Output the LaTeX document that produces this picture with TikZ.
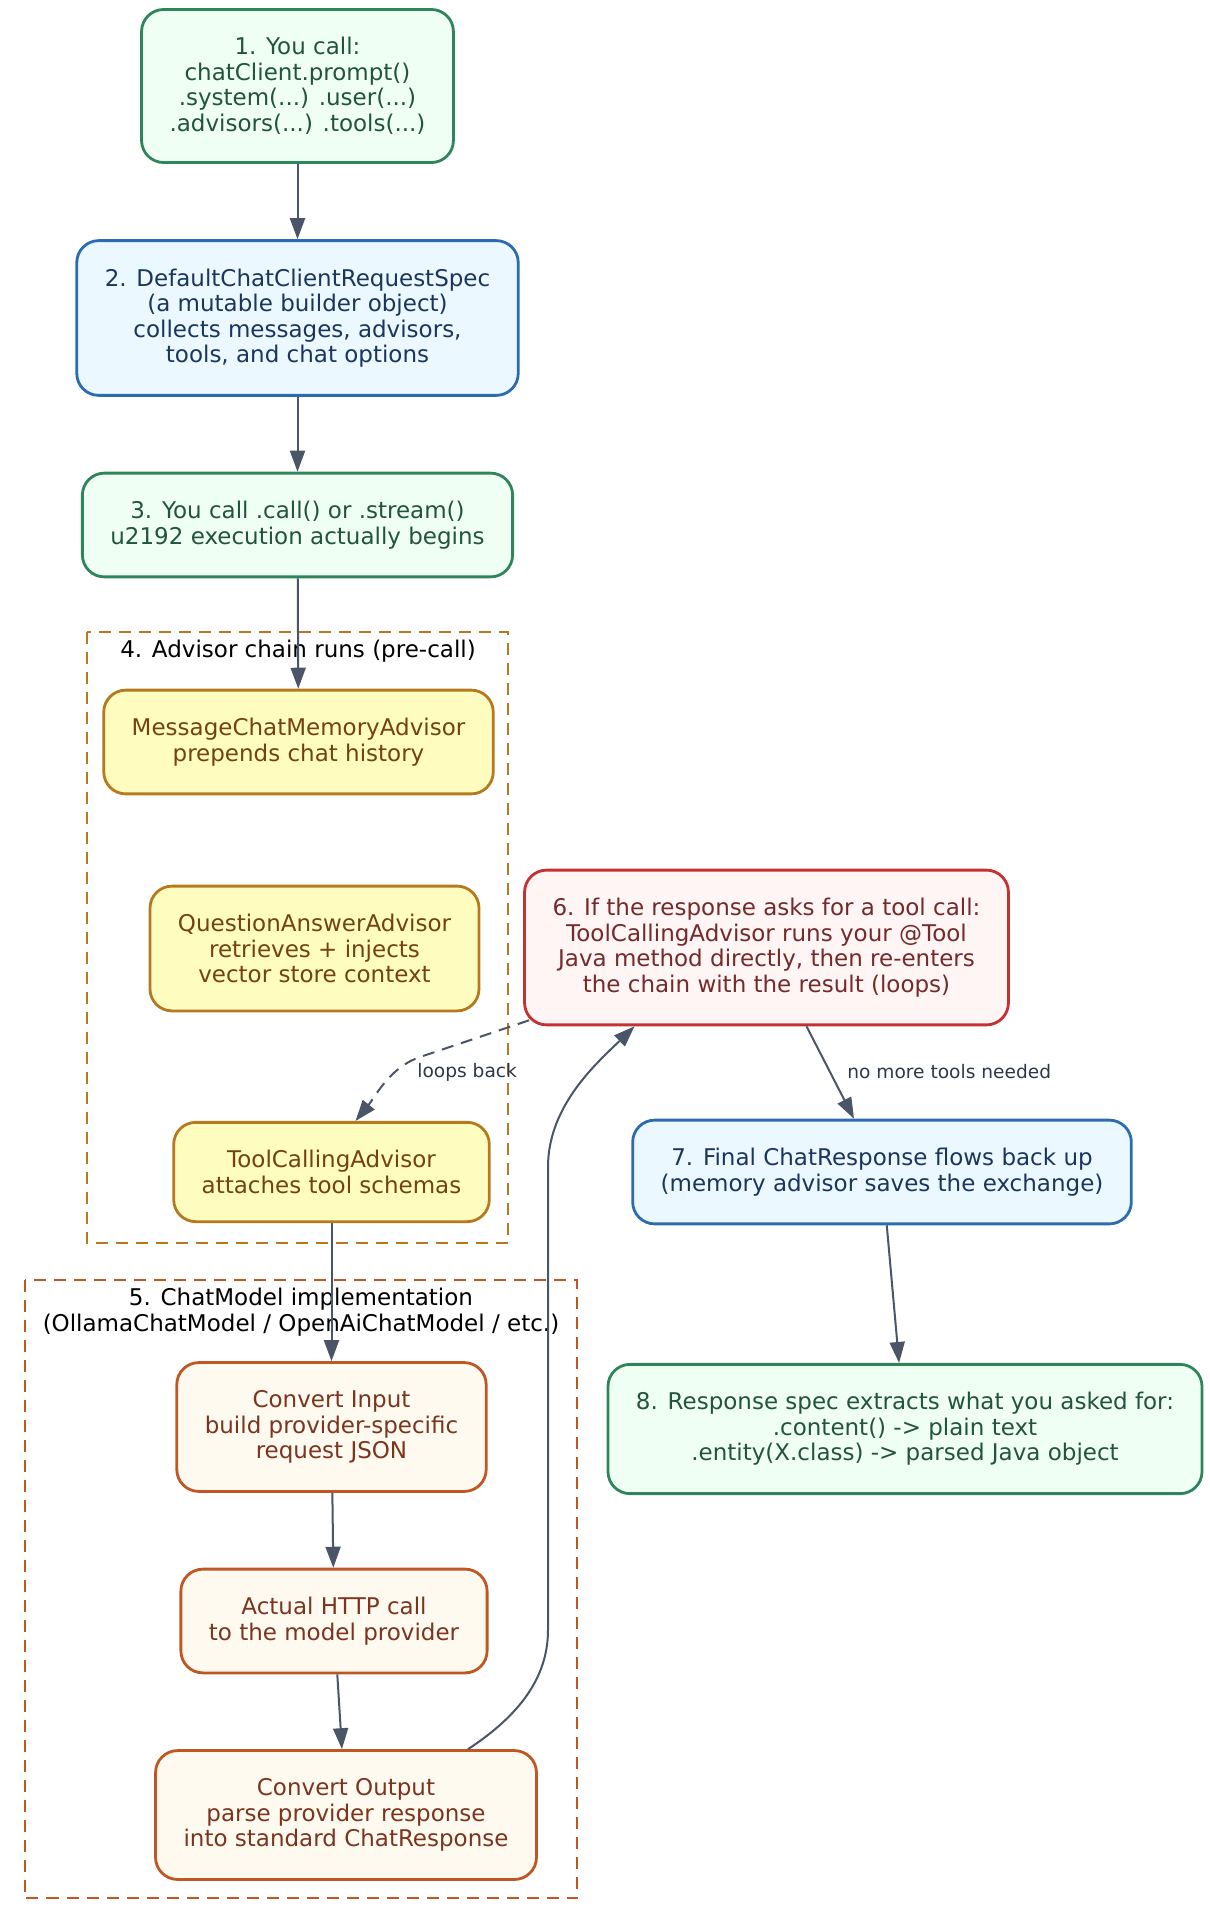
\documentclass[tikz,border=0pt]{standalone}
\usepackage{fontspec}
\setmainfont{DejaVu Sans}
\usepackage{xcolor}
\definecolor{gline}{HTML}{2F855A}
\definecolor{gfill}{HTML}{F0FFF4}
\definecolor{gtext}{HTML}{22543D}
\definecolor{bline}{HTML}{2B6CB0}
\definecolor{bfill}{HTML}{EBF8FF}
\definecolor{btext}{HTML}{1A365D}
\definecolor{yline}{HTML}{B7791F}
\definecolor{yfill}{HTML}{FEFCBF}
\definecolor{ytext}{HTML}{744210}
\definecolor{rline}{HTML}{C53030}
\definecolor{rfill}{HTML}{FFF5F5}
\definecolor{rtext}{HTML}{742A2A}
\definecolor{oline}{HTML}{C05621}
\definecolor{ofill}{HTML}{FFFAF0}
\definecolor{otext}{HTML}{7B341E}
\definecolor{eline}{HTML}{4A5568}
\definecolor{etext}{HTML}{2D3748}
\usetikzlibrary{arrows.meta}

\begin{document}
\begin{tikzpicture}[x=0.5pt,y=-0.5pt,
	card/.style={draw, rounded corners=11pt, line width=1.4pt, align=center,
		inner xsep=14pt, inner ysep=14pt, font=\fontsize{11.5}{12.75}\selectfont},
	gcard/.style={card, draw=gline, fill=gfill, text=gtext},
	bcard/.style={card, draw=bline, fill=bfill, text=btext},
	ycard/.style={card, draw=yline, fill=yfill, text=ytext},
	rcard/.style={card, draw=rline, fill=rfill, text=rtext},
	ocard/.style={card, draw=oline, fill=ofill, text=otext},
	ctitle/.style={align=center, inner sep=0pt, font=\fontsize{11.5}{12.75}\selectfont},
	clus/.style={line width=1pt, dash pattern=on 6pt off 4pt},
	arr/.style={draw=eline, line width=1pt, -{Triangle[length=10.5pt,width=7.5pt]}},
	lbl/.style={anchor=west, inner sep=0pt, text=etext, font=\fontsize{9.3}{11}\selectfont}]
				\useasboundingbox (0,0) rectangle (1210,1923);
				% the two clusters
				\draw[clus, yline] (87,632) rectangle (508,1243);
				\draw[clus, oline] (24.5,1280) rectangle (577,1898);
				\node[ctitle] (t4) at (298,651) {4. Advisor chain runs (pre-call)};
				\node[ctitle] (t5) at (301,1312) {5. ChatModel implementation\\(OllamaChatModel / OpenAiChatModel / etc.)};
				% main steps
				\node[gcard] (n1) at (297.5,86) {1. You call:\\chatClient.prompt()\\.system(...) .user(...)\\.advisors(...) .tools(...)};
				\node[bcard] (n2) at (297.5,318) {2. DefaultChatClientRequestSpec\\(a mutable builder object)\\collects messages, advisors,\\tools, and chat options};
				\node[gcard] (n3) at (297.5,525) {3. You call .call() or .stream()\\u2192 execution actually begins};
				\node[ycard] (a1) at (298.5,742) {MessageChatMemoryAdvisor\\prepends chat history};
				\node[ycard] (a2) at (314.5,948.5) {QuestionAnswerAdvisor\\retrieves + injects\\vector store context};
				\node[ycard] (a3) at (331.5,1172) {ToolCallingAdvisor\\attaches tool schemas};
				\node[ocard] (m1) at (331.5,1427) {Convert Input\\build provider-specific\\request JSON};
				\node[ocard] (m2) at (334,1621) {Actual HTTP call\\to the model provider};
				\node[ocard] (m3) at (346,1815) {Convert Output\\parse provider response\\into standard ChatResponse};
				\node[rcard] (n6) at (766.5,947.5) {6. If the response asks for a tool call:\\ToolCallingAdvisor runs your @Tool\\Java method directly, then re-enters\\the chain with the result (loops)};
				\node[bcard] (n7) at (882,1172) {7. Final ChatResponse flows back up\\(memory advisor saves the exchange)};
				\node[gcard] (n8) at (905,1429) {8. Response spec extracts what you asked for:\\.content() -> plain text\\.entity(X.class) -> parsed Java object};
				\node[lbl] (l1) at (417,1072) {loops back};
				\node[lbl] (l2) at (847,1072) {no more tools needed};
				% connectors
				\draw (n1) edge [arr] (n2);
				\draw (n2) edge [arr] (n3);
				\draw (n3) edge [arr] (a1);
				\draw (a3) edge [arr] (m1);
				\draw (m1) edge [arr] (m2);
				\draw (m2) edge [arr] (m3);
				\draw (n7) edge [arr] (n8);
				\draw ([xshift=20pt]n6.south) edge [arr] ([xshift=-14pt]n7.north);
				\draw[arr] ([xshift=61pt]m3.north) .. controls (520,1715) and (548,1677) .. (548,1630) -- (548,1167) .. controls (548,1105) and (598,1062) .. ([xshift=-66pt]n6.south);
				\draw[arr, dash pattern=on 6pt off 4pt] ([shift={(3pt,3pt)}]n6.south west) -- (420,1057) .. controls (390,1067) and (375,1097) .. ([xshift=12pt]a3.north);
			\end{tikzpicture}
\end{document}
